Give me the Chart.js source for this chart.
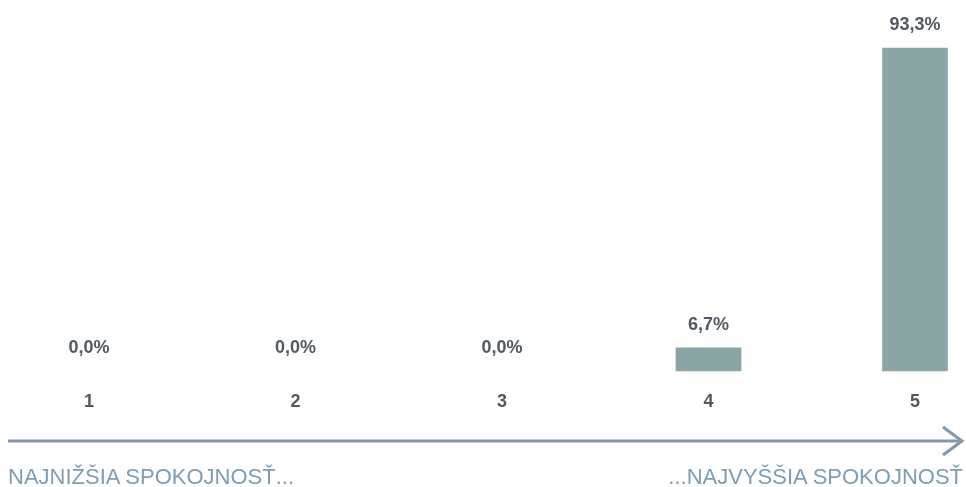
<!DOCTYPE html>
<html lang="sk">
<head>
  <meta charset="UTF-8" />
  <title>Spokojnosť</title>
  <script src="https://cdn.jsdelivr.net/npm/chart.js"></script>
  <style>
    html, body { margin: 0; padding: 0; background: #fff; overflow: hidden; }
    #wrap { position: relative; width: 966px; height: 487px; overflow: hidden; }
    .scale-note {
      position: absolute; top: 464px; line-height: 25px;
      font: 22px "Liberation Sans", Arial, sans-serif;
      color: #7f9db3; white-space: nowrap;
    }
  </style>
</head>
<body>
  <div id="wrap">
    <canvas id="satChart" width="966" height="487"></canvas>
    <span class="scale-note" style="left:8px">NAJNIŽŠIA SPOKOJNOSŤ...</span>
    <span class="scale-note" style="right:3px">...NAJVYŠŠIA SPOKOJNOSŤ</span>
  </div>

  <script>
    const categories = ['1', '2', '3', '4', '5'];
    const shares = [0.0, 0.0, 0.0, 6.7, 93.3];

    const textColor = '#505a64';
    const barColor = '#8ba4a4';

    // percent labels above each bar, Slovak decimal comma
    const valueLabels = {
      id: 'valueLabels',
      afterDatasetsDraw(chart) {
        const ctx = chart.ctx;
        const meta = chart.getDatasetMeta(0);
        ctx.save();
        ctx.font = 'bold 18px "Liberation Sans", Arial, sans-serif';
        ctx.fillStyle = textColor;
        ctx.textAlign = 'center';
        ctx.textBaseline = 'middle';
        meta.data.forEach((bar, i) => {
          const txt = shares[i].toFixed(1).replace('.', ',') + '%';
          ctx.fillText(txt, bar.x, bar.y - 23);
        });
        ctx.restore();
      }
    };

    // long arrow under the axis
    const scaleArrow = {
      id: 'scaleArrow',
      afterDraw(chart) {
        const ctx = chart.ctx;
        const y = 441;
        ctx.save();
        ctx.strokeStyle = '#8497b0';
        ctx.lineWidth = 3;
        ctx.beginPath();
        ctx.moveTo(8, y);
        ctx.lineTo(962, y);
        ctx.stroke();
        ctx.beginPath();
        ctx.moveTo(943, y - 14);
        ctx.lineTo(962, y);
        ctx.lineTo(943, y + 14);
        ctx.stroke();
        ctx.restore();
      }
    };

    new Chart(document.getElementById('satChart'), {
      type: 'bar',
      data: {
        labels: categories,
        datasets: [{
          data: shares,
          // zero-height bars would leave a hairline, so hide them
          backgroundColor: c => (c.raw > 0 ? barColor : 'rgba(0,0,0,0)'),
          barThickness: 65,
          clip: false
        }]
      },
      options: {
        responsive: false,
        animation: false,
        layout: { padding: { left: 89, right: 51, top: 25, bottom: 0 } },
        plugins: { legend: { display: false }, tooltip: { enabled: false } },
        scales: {
          x: {
            offset: false,
            grid: { display: false, drawTicks: false },
            border: { display: false },
            ticks: {
              padding: 20,
              color: textColor,
              font: { family: '"Liberation Sans", Arial, sans-serif', size: 18, weight: 'bold' }
            },
            afterFit(scale) { scale.height = 116; }
          },
          y: { display: false, min: 0, max: 100 }
        }
      },
      plugins: [valueLabels, scaleArrow]
    });
  </script>
</body>
</html>
